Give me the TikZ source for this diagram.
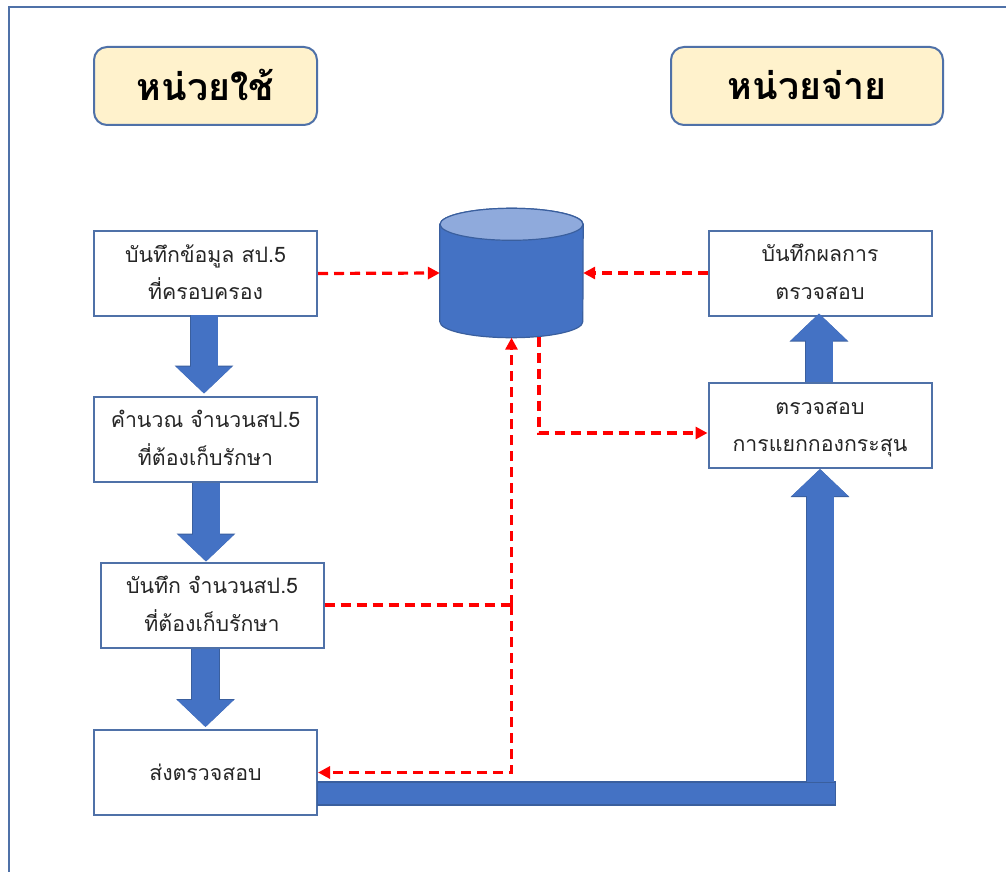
\documentclass[tikz,border=0pt]{standalone}
\usepackage{fontspec}
\newfontfamily\thaifont[Script=Thai]{Loma}
\usetikzlibrary{arrows.meta,calc}
\definecolor{edgeblue}{HTML}{4F71A8}
\definecolor{blockblue}{HTML}{4472C4}
\definecolor{blockedge}{HTML}{3A5F9E}
\definecolor{lidblue}{HTML}{8FAADC}
\definecolor{headfill}{HTML}{FFF2CC}
\newcommand\boxlines[2][3pt]{\raisebox{#1}{\begin{tabular}{@{}c@{}}#2\end{tabular}}}
\tikzset{
  headbox/.style={draw=edgeblue,line width=2pt,fill=headfill,rounded corners=13pt,minimum width=#1,minimum height=78pt,inner sep=0pt,font=\thaifont\fontsize{37.5}{44}\selectfont\bfseries,text=black},
  stepbox/.style={draw=edgeblue,line width=2pt,fill=white,minimum width=223pt,minimum height=85pt,inner sep=0pt,font=\thaifont\fontsize{21.3}{37.5}\selectfont,text=black!85},
  bigarrow/.style={line width=27pt,draw=blockblue,-{Triangle[length=27pt,width=55pt]},
    preaction={draw=blockedge,line width=28.5pt,-{Triangle[length=28pt,width=57pt]}}},
  reddash/.style={draw=red,line width=3.2pt,dash pattern=on 10pt off 6pt},
  redarrow/.style={reddash,-{Triangle[length=12pt,width=12pt,fill=red,sep=0pt]}},
}
\begin{document}
\begin{tikzpicture}[x=1pt,y=-1pt]
\useasboundingbox (0,0) rectangle (1006,872);
\fill[white] (0,0) rectangle (1006,872);
\coordinate (frameA) at (9,872);
\coordinate (frameB) at (9,7);
\coordinate (frameC) at (1006,7);
\draw[edgeblue,line width=1.6pt] (frameA) -- (frameB) -- (frameC);

\node[headbox=223pt] (headL) at (205.5,86) {\raisebox{2.5pt}{หน่วยใช้}};
\node[headbox=272pt] (headR) at (807,86) {\raisebox{2.5pt}{หน่วยจ่าย}};

\node[stepbox] (box1) at (205.5,273.5) {\boxlines{บันทึกข้อมูล สป.5\\ที่ครอบครอง}};
\node[stepbox] (box2) at (205.5,439) {\boxlines{คำนวณ จำนวนสป.5\\ที่ต้องเก็บรักษา}};
\node[stepbox] (box3) at (212,605) {\boxlines{บันทึก จำนวนสป.5\\ที่ต้องเก็บรักษา}};
\node[stepbox] (box4) at (205.5,772.5) {\boxlines[2.5pt]{ส่งตรวจสอบ}};
\node[stepbox] (boxT) at (820,273) {\boxlines{บันทึกผลการ\\ตรวจสอบ}};
\node[stepbox] (boxC) at (820,425.5) {\boxlines[2pt]{ตรวจสอบ\\การแยกกองกระสุน}};

% database
\node[minimum width=143pt,minimum height=129pt,inner sep=0pt] (db) at (511.5,273) {};
\draw[blockedge,line width=1.2pt,fill=blockblue]
  ($(db.north west)+(0,16)$) -- ($(db.south west)+(0,-16)$)
  arc[start angle=180,end angle=360,x radius=71.5pt,y radius=16pt]
  -- ($(db.north east)+(0,16)$)
  arc[start angle=0,end angle=180,x radius=71.5pt,y radius=16pt] -- cycle;
\draw[blockedge,line width=1.2pt,fill=lidblue] ($(db.north)+(0,16)$) ellipse[x radius=71.5pt,y radius=16pt];

% block arrows
\draw[bigarrow] ([xshift=-1.5pt,yshift=2pt]box1.south) -- ([xshift=-1.5pt,yshift=2pt]box2.north);
\draw[bigarrow] ([xshift=.5pt]box2.south) -- ([xshift=.5pt]box2.south |- box3.north);
\draw[bigarrow] (box2.south |- box3.south) -- ([yshift=2pt]box2.south |- box4.north);
\draw[bigarrow] ([xshift=-1pt]boxC.north) -- ([xshift=-1pt,yshift=3pt]boxT.south);

\coordinate (barM) at (820,793.5);
\draw[blockedge,line width=1.2pt,fill=blockblue] (box4.east |- 0,782) rectangle (835.5,805);
\draw[bigarrow] (barM |- 0,782) -- (boxC.south);
\fill[blockblue] (318,783) rectangle (835,804);

% red dashed connectors
\coordinate (junction) at (db.south |- box3.east);
\coordinate (tap) at ($(db.south)+(27.5,-1)$);
\draw[redarrow] (box1.east) -- (db.west);
\draw[redarrow] (boxT.west) -- (db.east);
\draw[reddash] (box3.east) -- (junction);
\draw[redarrow] (junction) -- (db.south);
\draw[redarrow] (junction) -- (junction |- box4.east) -- (box4.east);
\draw[redarrow] (tap) |- ([yshift=-7.5pt]boxC.west);
\end{tikzpicture}
\end{document}
